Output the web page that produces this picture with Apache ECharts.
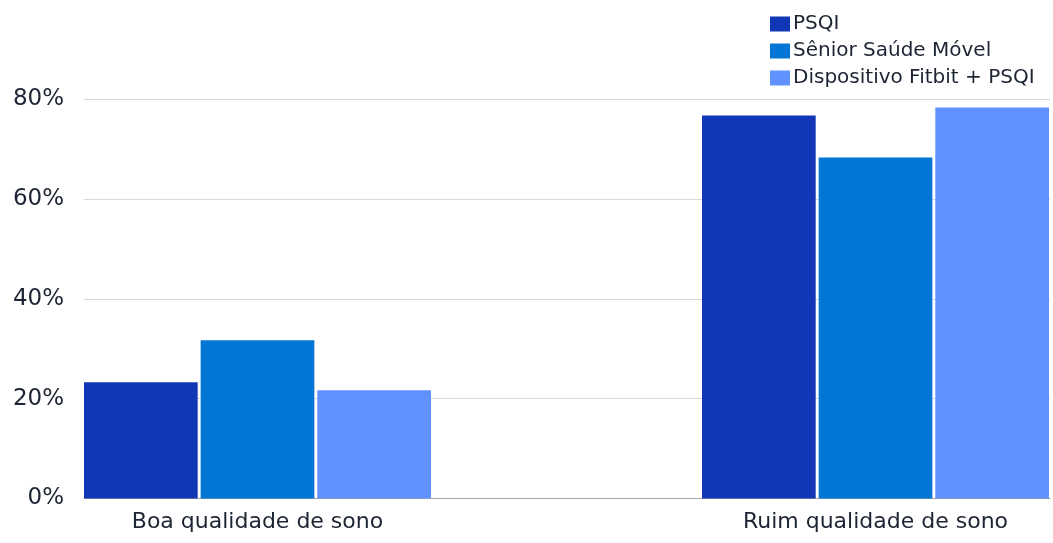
<!DOCTYPE html>
<html>
<head>
<meta charset="utf-8">
<script src="https://cdn.jsdelivr.net/npm/echarts@6/dist/echarts.min.js"></script>
<style>
html,body{margin:0;padding:0;background:#fff;}
#chart{width:1053px;height:543px;}
</style>
</head>
<body>
<div id="chart"></div>
<script>
const categories = ['Boa qualidade de sono', 'Ruim qualidade de sono'];
const seriesNames = ['PSQI', 'Sênior Saúde Móvel', 'Dispositivo Fitbit + PSQI'];
const psqi = [23.3, 76.7];
const seniorSaude = [31.7, 68.3];
const fitbit = [21.7, 78.3];
const yTicks = [0, 20, 40, 60, 80];
const colors = ['#1237B6', '#0176D5', '#6191FF'];

const FONT = 'DejaVu Sans';
const TEXT = '#1d2433';
const chart = echarts.init(document.getElementById('chart'), null, {renderer: 'canvas'});

const seriesData = [psqi, seniorSaude, fitbit];
const option = {
  animation: false,
  backgroundColor: '#ffffff',
  color: colors,
  textStyle: {fontFamily: FONT},
  legend: {
    orient: 'vertical',
    left: 770,
    top: 14,
    padding: 0,
    itemWidth: 20,
    itemHeight: 15,
    itemGap: 7,
    icon: 'rect',
    data: seriesNames,
    textStyle: {fontFamily: FONT, fontSize: 20, color: TEXT, lineHeight: 20, padding: [0, 0, 0, -2]}
  },
  grid: [
    {left: 84, right: 3, top: 99, bottom: 44.5, outerBoundsMode: 'none'},
    {left: -51.5, width: 1236, top: 99, bottom: 44.5, outerBoundsMode: 'none', containLabel: false}
  ],
  xAxis: [
    {
      type: 'category', gridIndex: 0, data: categories,
      axisLine: {show: true, lineStyle: {color: '#a6a6a6', width: 1}},
      axisTick: {show: false}, axisLabel: {show: false}
    },
    {
      type: 'category', gridIndex: 1, data: categories,
      axisLine: {show: false}, axisTick: {show: false},
      axisLabel: {fontFamily: FONT, fontSize: 22, color: TEXT, margin: 13}
    }
  ],
  yAxis: [
    {
      type: 'value', gridIndex: 0, min: yTicks[0], max: yTicks[yTicks.length - 1], interval: 20,
      axisLine: {show: false}, axisTick: {show: false},
      splitLine: {show: true, lineStyle: {color: '#d9d9d9', width: 1}},
      axisLabel: {fontFamily: FONT, fontSize: 23, color: TEXT, margin: 20, formatter: '{value}%'}
    },
    {
      type: 'value', gridIndex: 1, min: yTicks[0], max: yTicks[yTicks.length - 1], interval: 20,
      show: false, splitLine: {show: false}
    }
  ],
  series: seriesNames.map((name, i) => ({
    name: name,
    type: 'bar',
    xAxisIndex: 1,
    yAxisIndex: 1,
    data: seriesData[i],
    barWidth: 113.7,
    barGap: '2.6%',
    itemStyle: {color: colors[i]}
  }))
};
chart.setOption(option);
</script>
</body>
</html>
